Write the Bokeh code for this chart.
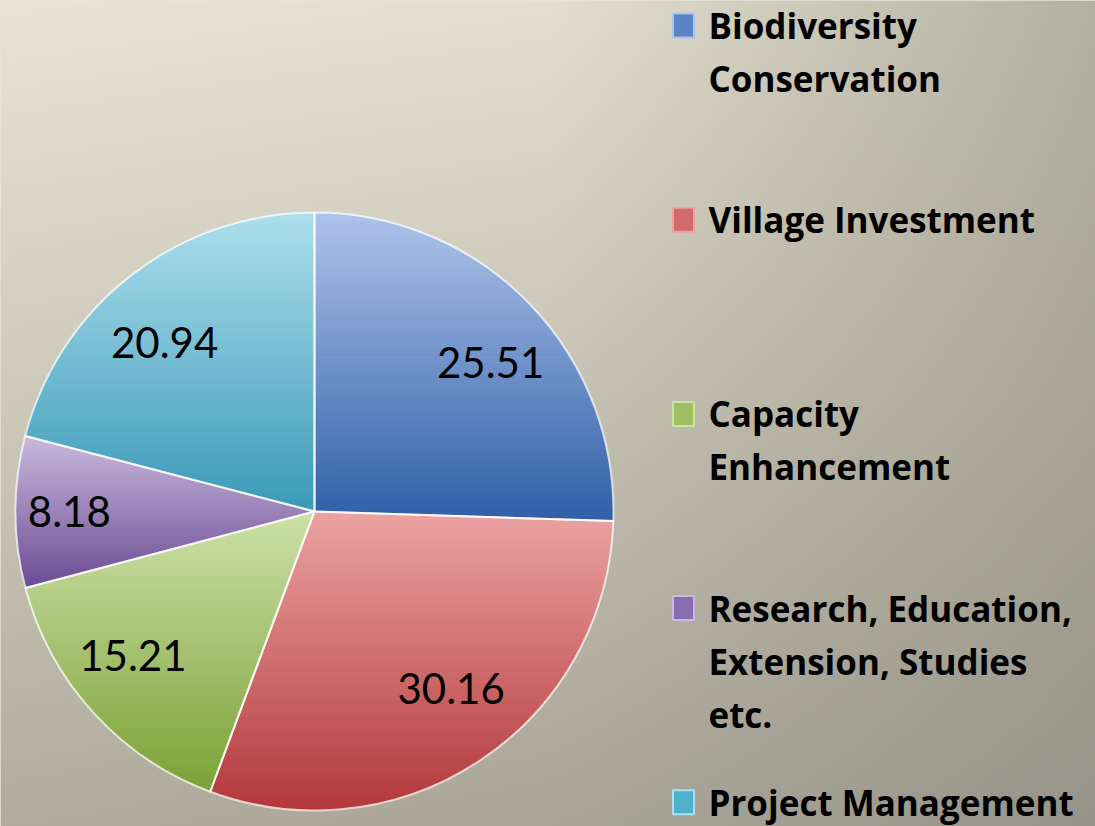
import numpy as np
from bokeh.plotting import figure
from bokeh.models import Range1d
from bokeh.core.properties import value
from bokeh.embed import file_html
from bokeh.resources import INLINE

# ---------------- data ----------------
categories = ["Biodiversity Conservation", "Village Investment", "Capacity Enhancement",
              "Research, Education, Extension, Studies etc.", "Project Management"]
values = [25.51, 30.16, 15.21, 8.18, 20.94]
value_labels = ["25.51", "30.16", "15.21", "8.18", "20.94"]
legend_lines = [["Biodiversity", "Conservation"],
                ["Village Investment"],
                ["Capacity", "Enhancement"],
                ["Research, Education,", "Extension, Studies", "etc."],
                ["Project Management"]]
base_colors = ["#5a84c6", "#d26a69", "#9fc060", "#8a6cb0", "#4fb0cc"]
light_colors = ["#aec3ea", "#eba3a2", "#cde0a8", "#c9b9dd", "#addeec"]
dark_colors = ["#2f5fa8", "#b3383a", "#7aa236", "#6a4b93", "#3a9ab8"]

# ---------------- figure ----------------
W, H = 1095, 826
p = figure(width=W, height=H, x_range=Range1d(0, W), y_range=Range1d(0, H),
           output_backend="svg", toolbar_location=None, min_border=0)
p.axis.visible = False
p.grid.visible = False
p.outline_line_color = None
p.background_fill_color = "#cfccbd"
p.border_fill_color = "#cfccbd"

# background gradient (style only)
gx = np.array([0.0, 550.0, 1095.0])
gy = np.array([0.0, 400.0, 826.0])
grid = np.array([
    [[232, 229, 213], [227, 224, 209], [179, 177, 163]],
    [[205, 202, 187], [198, 195, 181], [169, 166, 149]],
    [[176, 173, 159], [169, 166, 153], [151, 149, 138]],
], dtype=float)
nx, ny = 548, 413
px = (np.arange(nx) + 0.5) * W / nx
py = H - (np.arange(ny) + 0.5) * H / ny
k = np.clip(np.searchsorted(gy, py) - 1, 0, 1)
t = (py - gy[k]) / (gy[k + 1] - gy[k])
img = np.empty((ny, nx), dtype=np.uint32)
view = img.view(dtype=np.uint8).reshape((ny, nx, 4))
for c in range(3):
    A = np.stack([np.interp(px, gx, grid[r, :, c]) for r in range(3)])
    res = A[k, :] * (1 - t)[:, None] + A[k + 1, :] * t[:, None]
    view[:, :, c] = np.clip(res, 0, 255).astype(np.uint8)
view[:, :, 3] = 255
p.image_rgba(image=[img], x=0, y=0, dw=W, dh=H)

# ---------------- pie ----------------
cx, cy, R = 314, 315, 299
vals = np.array(values)
frac = vals / vals.sum()
cum = np.concatenate([[0], np.cumsum(frac)])
starts = np.pi / 2 - 2 * np.pi * cum[:-1]
ends = np.pi / 2 - 2 * np.pi * cum[1:]


def hex2rgb(h):
    h = h.lstrip("#")
    return np.array([int(h[i:i + 2], 16) for i in (0, 2, 4)], dtype=float)


def rgb2hex(c):
    c = np.clip(np.round(c), 0, 255).astype(int)
    return "#%02x%02x%02x" % tuple(c)


def intersect(a, b, y):
    tt = (y - a[1]) / (b[1] - a[1])
    return (a[0] + tt * (b[0] - a[0]), y)


def clip_half(pts, y, keep_above):
    out = []
    n = len(pts)
    for i in range(n):
        cur, prev = pts[i], pts[i - 1]
        cin = cur[1] >= y if keep_above else cur[1] <= y
        pin = prev[1] >= y if keep_above else prev[1] <= y
        if cin:
            if not pin:
                out.append(intersect(prev, cur, y))
            out.append(cur)
        elif pin:
            out.append(intersect(prev, cur, y))
    return out


band_xs, band_ys, band_cols = [], [], []
NB = 70
for i in range(len(values)):
    ang = np.linspace(starts[i], ends[i], 300)
    poly = [(cx, cy)] + list(zip(cx + R * np.cos(ang), cy + R * np.sin(ang)))
    ys_all = [q[1] for q in poly]
    y_lo, y_hi = min(ys_all), max(ys_all)
    lc, dc = hex2rgb(light_colors[i]), hex2rgb(dark_colors[i])
    for b in range(NB):
        y0 = y_lo + b * (y_hi - y_lo) / NB
        y1 = y_lo + (b + 1) * (y_hi - y_lo) / NB
        part = clip_half(poly, y0, True)
        if len(part) < 3:
            continue
        part = clip_half(part, y1, False)
        if len(part) < 3:
            continue
        tt = (b + 0.5) / NB
        col = rgb2hex(dc * (1 - tt) + lc * tt)
        band_xs.append([q[0] for q in part])
        band_ys.append([q[1] for q in part])
        band_cols.append(col)

p.patches(xs=band_xs, ys=band_ys, fill_color=band_cols, line_color=band_cols, line_width=1)

p.wedge(x=cx, y=cy, radius=R, start_angle=list(starts), end_angle=list(ends),
        direction="clock", fill_color=None, line_color="white", line_width=2, line_alpha=0.75)

# labels at each slice's mid angle (elliptical placement: labels are wider than tall)
mid = (starts + ends) / 2
lrx, lry = 0.82 * R, 0.715 * R
p.text(x=list(cx + lrx * np.cos(mid)), y=list(cy + lry * np.sin(mid)), text=value_labels,
       text_font=value("Lato"), text_font_size="42px", text_color="black",
       text_align="center", text_baseline="middle")

# ---------------- legend ----------------
top_y, step, line_step = 801, 194.2, 53
mk_x, tx_x = 683, 708
for i, lines in enumerate(legend_lines):
    y0 = top_y - i * step
    p.rect(x=mk_x, y=y0, width=21, height=24, fill_color=base_colors[i],
           line_color=light_colors[i], line_width=2)
    p.text(x=[tx_x] * len(lines), y=[y0 - j * line_step for j in range(len(lines))], text=lines,
           text_font=value("Open Sans"), text_font_style="bold", text_font_size="35px",
           text_color="black", text_align="left", text_baseline="middle")

open("out.html", "w").write(file_html(p, INLINE))
